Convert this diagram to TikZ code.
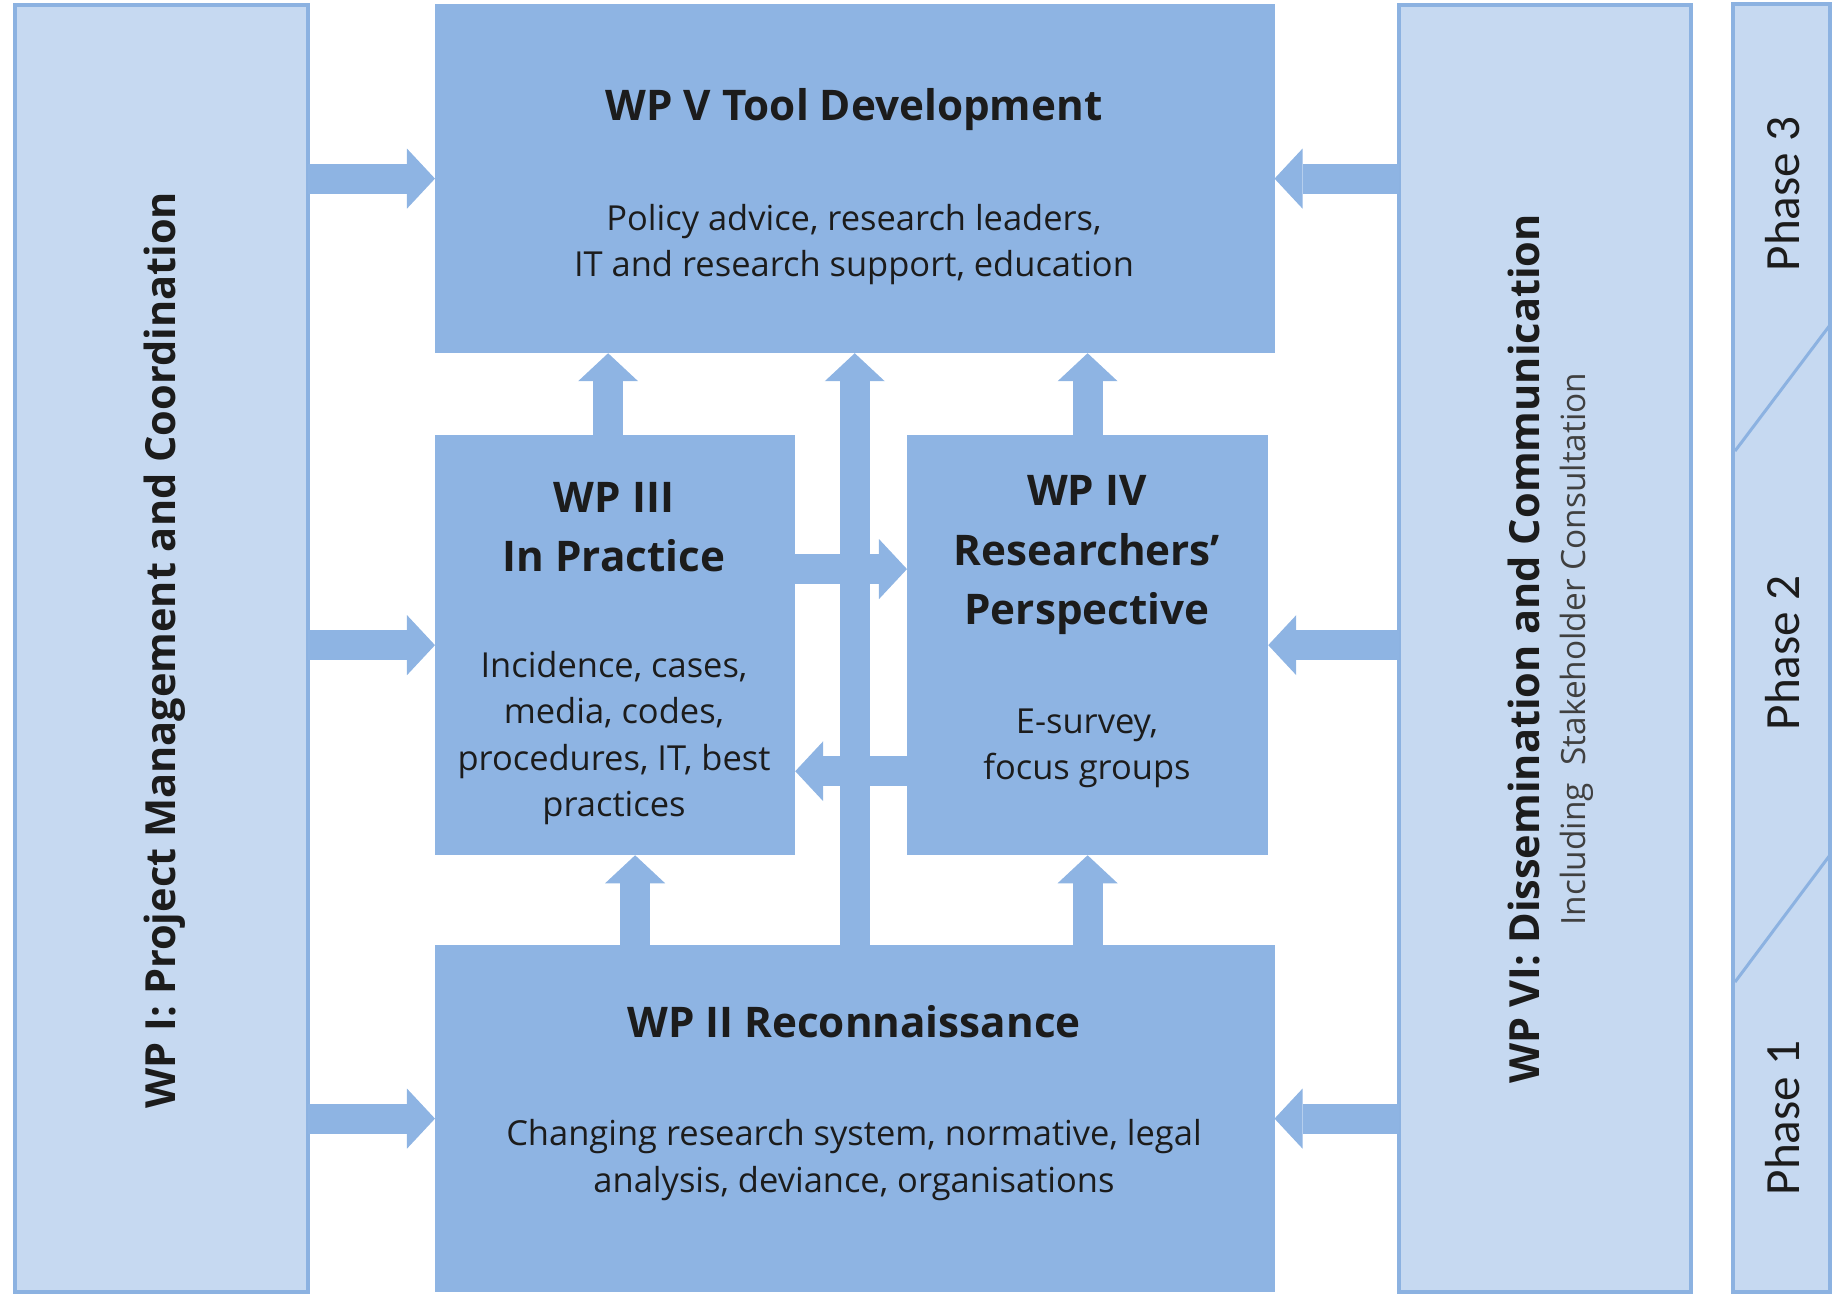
\documentclass[tikz,border=0pt]{standalone}
\usepackage{fontspec}
\setmainfont{Open Sans}
\newfontfamily\phasefont{Carlito}
\usepackage{tikz}
\usetikzlibrary{arrows.meta}
\definecolor{wpblue}{RGB}{142,180,227}
\definecolor{wplight}{RGB}{198,217,241}
\definecolor{wpline}{RGB}{140,178,225}
\definecolor{wptext}{RGB}{28,28,28}
\tikzset{
  wp box/.style={fill=wpblue, anchor=north west, inner sep=0pt, outer sep=0pt},
  side box/.style={wp box, fill=wplight, draw=wpline, line width=0.04cm},
  wp title/.style={text=wptext, align=center, font=\fontsize{12}{16.8}\selectfont\bfseries},
  side title/.style={wp title, rotate=90, font=\fontsize{11.8}{16.8}\selectfont\bfseries},
  wp body/.style={text=wptext, align=center, font=\fontsize{9.8}{13.1}\selectfont},
  phase label/.style={rotate=90, text=wptext, font=\phasefont\fontsize{14}{16}\selectfont},
  block arrow/.style={wpblue, line width=0.3cm,
    -{Triangle[length=0.28cm, width=0.6cm, line width=0pt]}},
}

\begin{document}
\begin{tikzpicture}[x=0.01cm, y=-0.01cm]

  \useasboundingbox (0,0) rectangle (1845,1302);

  % Define nodes
  \node[side box, minimum width=2.93cm, minimum height=12.86cm] (wp1) at (15,5) {};
  \node[wp box, minimum width=8.39cm, minimum height=3.49cm] (wp5) at (435,4) {};
  \node[wp box, minimum width=3.60cm, minimum height=4.20cm] (wp3) at (435,435) {};
  \node[wp box, minimum width=3.61cm, minimum height=4.20cm] (wp4) at (907,435) {};
  \node[wp box, minimum width=8.39cm, minimum height=3.47cm] (wp2) at (435,945) {};
  \node[side box, minimum width=2.92cm, minimum height=12.86cm] (wp6) at (1399,5) {};
  \node[side box, minimum width=0.97cm, minimum height=12.87cm] (phase) at (1733,4) {};

  % Phase boundaries
  \draw[wpline, line width=0.03cm] (1735,451) -- (1830,325);
  \draw[wpline, line width=0.03cm] (1735,982) -- (1830,855);

  % Texts
  \node[side title] (wp1 title) at (165,650) {WP I: Project Management and Coordination};

  \node[wp title] (wp5 title) at (854,110) {WP V Tool Development};
  \node[wp body] (wp5 body) at (854,245) {Policy advice, research leaders,\\IT and research support, education};

  \node[wp title] (wp3 title) at (614,527) {WP III\\In Practice};
  \node[wp body] (wp3 body) at (614,738) {Incidence, cases,\\media, codes,\\procedures, IT, best\\practices};

  \node[wp title] (wp4 title) at (1087,555) {WP IV\\Researchers'\\Perspective};
  \node[wp body] (wp4 body) at (1087,748) {E-survey,\\focus groups};

  \node[wp title] (wp2 title) at (854,1022) {WP II Reconnaissance};
  \node[wp body] (wp2 body) at (854,1160) {Changing research system, normative, legal\\analysis, deviance, organisations};

  \node[side title] (wp6 title) at (1524,649) {WP VI: Dissemination and Communication};
  \node[wp body, rotate=90, text=black!75, font=\fontsize{9.5}{12}\selectfont] (wp6 body) at (1577,649) {Including\ \ Stakeholder Consultation};

  \node[phase label] (phase3) at (1783,194) {Phase 3};
  \node[phase label] (phase2) at (1783,653) {Phase 2};
  \node[phase label] (phase1) at (1783,1118) {Phase 1};

  % Connect nodes
  \draw[block arrow] (wp1.east |- wp5.west) -- (wp5.west);
  \draw[block arrow] (wp1.east |- wp3.west) -- (wp3.west);
  \draw[block arrow] (wp1.east |- wp2.west) -- (wp2.west);

  \draw[block arrow] (wp6.west |- wp5.east) -- (wp5.east);
  \draw[block arrow] (wp6.west |- wp4.east) -- (wp4.east);
  \draw[block arrow] (wp6.west |- wp2.east) -- (wp2.east);

  \draw[block arrow] ([xshift=-0.07cm]wp3.north) -- ([xshift=-0.07cm]wp3.north |- wp5.south);
  \draw[block arrow] (wp2.north) -- (wp5.south);
  \draw[block arrow] (wp4.north) -- (wp4.north |- wp5.south);

  \draw[block arrow] ([xshift=0.2cm]wp3.south |- wp2.north) -- ([xshift=0.2cm]wp3.south);
  \draw[block arrow] (wp4.south |- wp2.north) -- (wp4.south);

  \draw[block arrow] ([yshift=0.76cm]wp3.east) -- ([yshift=0.76cm]wp4.west);
  \draw[block arrow] ([yshift=-1.26cm]wp4.west) -- ([yshift=-1.26cm]wp3.east);

\end{tikzpicture}
\end{document}
